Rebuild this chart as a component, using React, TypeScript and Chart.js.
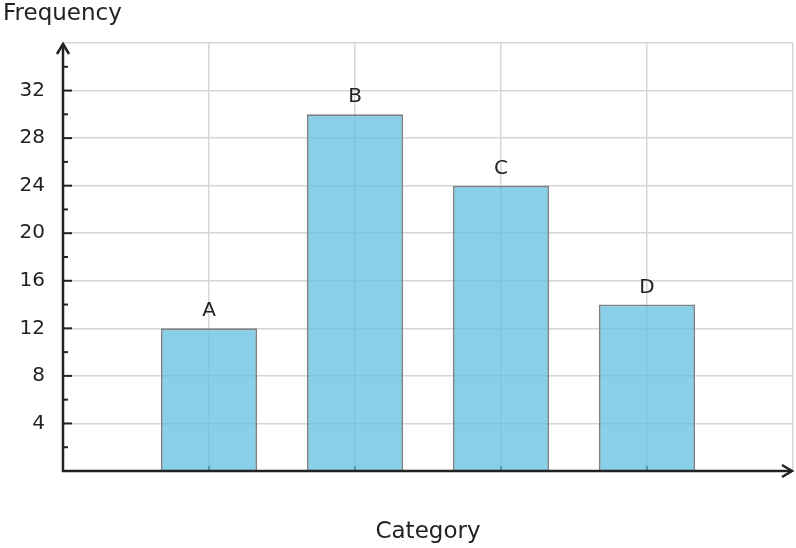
import React, { useEffect, useRef } from 'react';
import { Chart, registerables } from 'chart.js';

Chart.register(...registerables);

const categories = ['A', 'B', 'C', 'D'];
const positions = [1, 2, 3, 4];
const frequencies = [12, 30, 24, 14];
const yMax = 36;
const xMax = 5;

const FONT = "'DejaVu Sans', sans-serif";
const INK = '#222222';

// axes with arrow heads, tick marks, titles and bar letters
const decorPlugin = {
    id: 'decor',
    beforeDatasetsDraw(chart: any) {
        const { ctx, scales } = chart;
        const x = scales.x;
        const y = scales.y;
        ctx.save();
        ctx.strokeStyle = INK;
        ctx.lineWidth = 2;
        // small x ticks at categories (under bars)
        positions.forEach(p => {
            const px = x.getPixelForValue(p);
            ctx.beginPath();
            ctx.moveTo(px, y.bottom);
            ctx.lineTo(px, y.bottom - 5);
            ctx.stroke();
        });
        ctx.restore();
    },
    afterDraw(chart: any) {
        const { ctx, scales, chartArea } = chart;
        const x = scales.x;
        const y = scales.y;
        const x0 = chartArea.left;
        const y0 = chartArea.bottom;
        ctx.save();
        ctx.strokeStyle = INK;
        ctx.fillStyle = INK;
        ctx.lineWidth = 2.5;
        ctx.lineCap = 'butt';
        // y axis
        ctx.beginPath();
        ctx.moveTo(x0, y0 + 1);
        ctx.lineTo(x0, chartArea.top + 1);
        ctx.stroke();
        ctx.beginPath();
        ctx.moveTo(x0 - 6, chartArea.top + 11);
        ctx.lineTo(x0, chartArea.top + 1);
        ctx.lineTo(x0 + 6, chartArea.top + 11);
        ctx.stroke();
        // x axis
        ctx.beginPath();
        ctx.moveTo(x0 - 1, y0);
        ctx.lineTo(chartArea.right - 1, y0);
        ctx.stroke();
        ctx.beginPath();
        ctx.moveTo(chartArea.right - 11, y0 - 6);
        ctx.lineTo(chartArea.right - 1, y0);
        ctx.lineTo(chartArea.right - 11, y0 + 6);
        ctx.stroke();
        // y tick marks
        ctx.lineWidth = 2;
        for (let v = 2; v < yMax; v += 2) {
            const py = y.getPixelForValue(v);
            const len = v % 4 === 0 ? 9 : 5;
            ctx.beginPath();
            ctx.moveTo(x0, py);
            ctx.lineTo(x0 + len, py);
            ctx.stroke();
        }
        // bar letters
        ctx.font = `20px ${FONT}`;
        ctx.textAlign = 'center';
        ctx.textBaseline = 'alphabetic';
        categories.forEach((c, i) => {
            const px = x.getPixelForValue(positions[i]);
            const py = y.getPixelForValue(frequencies[i]);
            ctx.fillText(c, px, py - 12);
        });
        // titles
        ctx.font = `23px ${FONT}`;
        ctx.textAlign = 'left';
        ctx.fillText('Frequency', 3, 20);
        ctx.textAlign = 'center';
        ctx.fillText('Category', (chartArea.left + chartArea.right) / 2, 538);
        ctx.restore();
    },
};

const App: React.FC = () => {
    const canvasRef = useRef<HTMLCanvasElement>(null);

    useEffect(() => {
        document.body.style.margin = '0';
        const canvas = canvasRef.current;
        if (!canvas) return;
        const gridColor = (c: any) => (c.tick && c.tick.value === 0 ? 'rgba(0,0,0,0)' : '#d6d6d6');
        const chart = new Chart(canvas, {
            type: 'bar',
            data: {
                datasets: [
                    {
                        label: 'Frequency',
                        data: positions.map((p, i) => ({ x: p, y: frequencies[i] })),
                        backgroundColor: 'rgba(96, 192, 226, 0.75)',
                        borderColor: '#7d8287',
                        borderWidth: 1.8,
                        barPercentage: 0.66,
                        categoryPercentage: 1,
                    },
                ],
            },
            options: {
                responsive: false,
                animation: false,
                layout: { padding: { top: 43, right: 3, left: 0, bottom: 0 } },
                plugins: {
                    legend: { display: false },
                    tooltip: { enabled: false },
                },
                scales: {
                    x: {
                        type: 'linear',
                        min: 0,
                        max: xMax,
                        offset: false,
                        afterFit: (s: any) => { s.height = 77; },
                        ticks: { display: false, stepSize: 1 },
                        border: { display: false },
                        grid: {
                            offset: false,
                            drawTicks: false,
                            lineWidth: 1.5,
                            color: gridColor,
                        },
                    },
                    y: {
                        min: 0,
                        max: yMax,
                        afterFit: (s: any) => { s.width = 63; },
                        border: { display: false },
                        ticks: {
                            stepSize: 2,
                            padding: 18,
                            color: INK,
                            font: { family: FONT, size: 20 },
                            callback: (v: any) => (v > 0 && v < yMax && v % 4 === 0 ? String(v) : ''),
                        },
                        grid: {
                            drawTicks: false,
                            lineWidth: 1.5,
                            color: gridColor,
                        },
                    },
                },
            },
            plugins: [decorPlugin],
        });
        return () => chart.destroy();
    }, []);

    return (
        <div style={{ position: 'absolute', left: 0, top: 0, width: 796, height: 548, background: '#fff' }}>
            <canvas ref={canvasRef} width={796} height={548}></canvas>
        </div>
    );
};

export default App;
